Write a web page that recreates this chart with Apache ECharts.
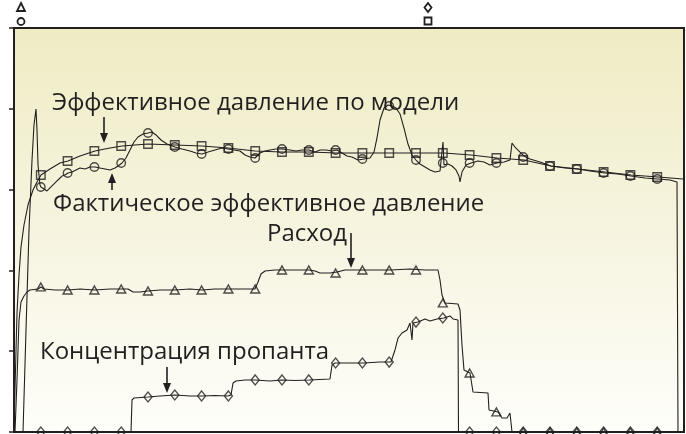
<!DOCTYPE html>
<html><head><meta charset="utf-8">
<script src="https://cdn.jsdelivr.net/npm/echarts@6/dist/echarts.min.js"></script>
<style>html,body{margin:0;padding:0;background:#fff}#c{width:686px;height:434px}</style>
</head><body><div id="c"></div><script>
// time, min (x) ; value (y, relative units 0..5)
const markerTimes = [1,2,3,4,5,6,7,8,9,10,11,12,13,14,15,16,17,18,19,20,21,22,23,24];

const flowLine = [[0.037,0],[0.112,0.644],[0.187,1.386],[0.261,1.609],[0.373,1.683],[0.485,1.733],[0.597,1.757],[0.896,1.770],[1.007,1.795],[1.119,1.770],[1.53,1.757],[2.015,1.757],[2.463,1.770],[3.022,1.757],[3.582,1.770],[4.254,1.770],[4.44,1.733],[4.701,1.733],[5.0,1.745],[5.448,1.757],[6.007,1.757],[6.567,1.770],[7.015,1.757],[7.5,1.770],[7.985,1.770],[8.619,1.770],[8.993,1.770],[9.104,1.856],[9.216,1.955],[9.366,1.993],[9.739,2.005],[10.485,2.005],[11.007,2.005],[11.231,1.993],[11.418,1.968],[11.791,1.968],[12.052,1.980],[12.351,2.005],[13.06,2.005],[14.067,2.005],[14.776,2.017],[15.336,2.005],[15.821,2.005],[15.896,1.881],[15.97,1.696],[16.082,1.597],[16.567,1.584],[16.642,1.510],[16.716,1.077],[16.791,0.767],[17.015,0.730],[17.127,0.495],[17.687,0.483],[17.724,0.272],[18.06,0.248],[18.209,0.173],[18.396,0.173],[18.507,0.235],[18.582,0],[24.963,0]];
const flowMarkers = [1.795,1.757,1.757,1.770,1.745,1.757,1.757,1.770,1.770,2.005,2.005,1.968,2.005,2.005,2.005,1.597,0.730,0.248,0,0,0,0,0,0];

const concLine = [[0,0],[4.366,0],[4.403,0.396],[4.478,0.421],[5.0,0.433],[5.448,0.446],[6.007,0.458],[6.567,0.446],[7.015,0.446],[7.5,0.452],[7.985,0.446],[8.097,0.458],[8.172,0.606],[8.284,0.631],[8.619,0.644],[8.993,0.644],[9.552,0.631],[10.0,0.644],[10.5,0.638],[11.007,0.644],[11.791,0.656],[11.866,0.829],[11.978,0.854],[12.537,0.854],[13.06,0.854],[13.657,0.866],[14.067,0.866],[14.216,1.015],[14.328,1.163],[14.478,1.225],[14.664,1.262],[14.776,1.349],[14.851,1.139],[14.888,1.349],[15.075,1.361],[15.336,1.399],[15.522,1.374],[15.784,1.399],[16.045,1.411],[16.269,1.436],[16.381,1.399],[16.567,1.386],[16.586,0],[24.963,0]];
const concMarkers = [0,0,0,0,0.433,0.458,0.446,0.446,0.644,0.644,0.644,0.854,0.854,0.866,1.361,1.411,0,0,0,0,0,0,0,0];

const modelLine = [[0,0],[0.037,0.520],[0.075,1.015],[0.112,1.473],[0.187,1.943],[0.261,2.290],[0.373,2.562],[0.522,2.809],[0.709,2.995],[0.858,3.094],[1.007,3.181],[1.343,3.255],[1.716,3.329],[2.015,3.354],[2.463,3.416],[3.022,3.478],[3.582,3.515],[4.03,3.540],[4.515,3.552],[5.0,3.564],[6.007,3.552],[7.015,3.540],[7.985,3.515],[8.993,3.478],[10.0,3.465],[11.007,3.465],[12.052,3.453],[16.045,3.453],[17.052,3.428],[18.022,3.391],[19.03,3.366],[20.037,3.292],[21.045,3.255],[22.052,3.218],[23.022,3.181],[24.03,3.156],[24.963,3.131]];
const modelMarkers = [3.181,3.354,3.478,3.540,3.564,3.552,3.540,3.515,3.478,3.465,3.465,3.453,3.453,3.453,3.453,3.453,3.428,3.391,3.366,3.292,3.255,3.218,3.181,3.156];

const actualLine = [[0.336,0],[0.448,1.262],[0.56,2.5],[0.672,3.366],[0.746,3.8],[0.821,3.998],[0.858,3.738],[0.896,3.304],[0.97,3.057],[1.007,3.032],[1.119,3.007],[1.231,2.983],[1.343,3.020],[1.53,3.082],[1.642,3.119],[1.791,3.168],[1.903,3.181],[2.015,3.205],[2.164,3.218],[2.313,3.243],[2.463,3.267],[2.649,3.255],[2.836,3.280],[3.022,3.280],[3.209,3.267],[3.396,3.255],[3.582,3.243],[3.769,3.267],[3.881,3.292],[4.03,3.329],[4.179,3.391],[4.328,3.490],[4.478,3.589],[4.627,3.651],[4.813,3.688],[5.0,3.700],[5.149,3.713],[5.299,3.676],[5.485,3.614],[5.709,3.564],[6.007,3.527],[6.269,3.502],[6.567,3.478],[6.791,3.453],[7.015,3.441],[7.239,3.465],[7.5,3.490],[7.761,3.515],[7.985,3.502],[8.209,3.490],[8.433,3.478],[8.619,3.428],[8.806,3.403],[8.993,3.391],[9.179,3.453],[9.366,3.478],[9.552,3.490],[9.776,3.502],[10.0,3.502],[10.299,3.490],[10.522,3.478],[10.746,3.490],[11.007,3.490],[11.231,3.465],[11.418,3.490],[11.642,3.490],[11.866,3.478],[12.052,3.490],[12.239,3.453],[12.425,3.416],[12.612,3.403],[12.836,3.366],[13.06,3.379],[13.284,3.391],[13.433,3.465],[13.545,3.639],[13.657,3.861],[13.806,4.010],[13.955,4.047],[14.104,4.035],[14.254,4.010],[14.403,3.936],[14.552,3.762],[14.701,3.564],[14.851,3.428],[15.0,3.366],[15.149,3.317],[15.336,3.280],[15.522,3.243],[15.709,3.218],[15.896,3.230],[15.97,3.243],[16.007,3.589],[16.045,3.304],[16.194,3.317],[16.343,3.292],[16.493,3.243],[16.604,3.168],[16.642,3.094],[16.716,3.218],[16.866,3.304],[17.052,3.329],[17.313,3.354],[17.537,3.342],[17.761,3.304],[18.022,3.329],[18.284,3.342],[18.507,3.366],[18.582,3.577],[18.694,3.527],[18.881,3.465],[19.03,3.416],[19.254,3.379],[19.627,3.342],[20.037,3.292],[20.56,3.267],[21.045,3.255],[21.493,3.230],[22.052,3.205],[22.537,3.193],[23.022,3.168],[23.545,3.144],[24.03,3.131],[24.478,3.119],[24.739,3.094],[24.776,0]];
const actualMarkers = [3.032,3.205,3.280,3.329,3.700,3.527,3.441,3.502,3.391,3.502,3.490,3.490,3.379,4.035,3.366,3.329,3.329,3.329,3.403,3.292,3.255,3.205,3.168,3.131];

const labels = {
  model: 'Эффективное давление по модели',
  actual: 'Фактическое эффективное давление',
  flow: 'Расход',
  conc: 'Концентрация пропанта'
};

const INK = '#231f20';
const pair = vals => markerTimes.map((t, i) => [t, vals[i]]);

function lineSeries(name, data) {
  return { name, type: 'line', data, showSymbol: false, symbol: 'none', smooth: false,
    lineStyle: { color: INK, width: 1.1 }, z: 3, silent: true };
}
function markerSeries(name, vals, symbol, size) {
  return { name: name + '_m', type: 'scatter', data: pair(vals), symbol, symbolSize: size,
    itemStyle: { color: 'rgba(0,0,0,0)', borderColor: INK, borderWidth: 1.4 }, z: 4, silent: true };
}
function arrow(x, y1, y2) {
  const dir = y2 > y1 ? 1 : -1;
  return { type: 'group', children: [
    { type: 'line', shape: { x1: x, y1: y1, x2: x, y2: y2 - dir * 8 }, style: { stroke: INK, lineWidth: 1.6 } },
    { type: 'polygon', shape: { points: [[x - 4, y2 - dir * 10], [x + 4, y2 - dir * 10], [x, y2]] }, style: { fill: INK } }
  ]};
}
function txt(text, x, y) {
  return { type: 'text', style: { text, x, y, font: '24px "Open Sans"', fill: INK, textAlign: 'left', textVerticalAlign: 'middle' }, z: 10 };
}

const chart = echarts.init(document.getElementById('c'), null, { renderer: 'canvas' });
chart.setOption({
  animation: false,
  backgroundColor: '#ffffff',
  grid: { left: 14, right: 2, top: 28, bottom: 2, show: true, borderColor: INK, borderWidth: 2,
    backgroundColor: { type: 'linear', x: 0, y: 0, x2: 0, y2: 1, colorStops: [
      { offset: 0, color: '#efecc4' }, { offset: 0.5, color: '#f6f4df' }, { offset: 1, color: '#fefefa' } ] } },
  xAxis: { type: 'value', min: 0, max: 25, axisLine: { show: false }, axisTick: { show: false },
    axisLabel: { show: false }, splitLine: { show: false } },
  yAxis: { type: 'value', min: 0, max: 5, interval: 1, axisLine: { show: false },
    axisTick: { show: true, inside: false, length: 5, lineStyle: { color: INK, width: 1.5 } },
    axisLabel: { show: false }, splitLine: { show: false } },
  series: [
    lineSeries(labels.flow, flowLine),
    lineSeries(labels.conc, concLine),
    lineSeries(labels.model, modelLine),
    lineSeries(labels.actual, actualLine),
    markerSeries(labels.flow, flowMarkers, 'triangle', [9, 8]),
    markerSeries(labels.conc, concMarkers, 'diamond', [8, 10]),
    markerSeries(labels.model, modelMarkers, 'rect', 8.5),
    markerSeries(labels.actual, actualMarkers, 'circle', 8.5)
  ],
  graphic: [
    txt(labels.model, 52, 103),
    txt(labels.actual, 53, 204),
    txt(labels.flow, 267, 234),
    txt(labels.conc, 40, 352),
    arrow(104, 117, 143),
    arrow(112, 190, 173),
    arrow(351, 233, 268),
    arrow(167, 367, 393),
    { type: 'polygon', shape: { points: [[21, 3], [25, 11], [17, 11]] }, style: { fill: 'none', stroke: INK, lineWidth: 1.8 } },
    { type: 'circle', shape: { cx: 21, cy: 21.5, r: 3.5 }, style: { fill: 'none', stroke: INK, lineWidth: 1.8 } },
    { type: 'polygon', shape: { points: [[428, 3], [431.5, 7.5], [428, 12], [424.5, 7.5]] }, style: { fill: 'none', stroke: INK, lineWidth: 1.8 } },
    { type: 'rect', shape: { x: 424.5, y: 17.5, width: 7, height: 7 }, style: { fill: 'none', stroke: INK, lineWidth: 1.8 } }
  ]
});
</script></body></html>
